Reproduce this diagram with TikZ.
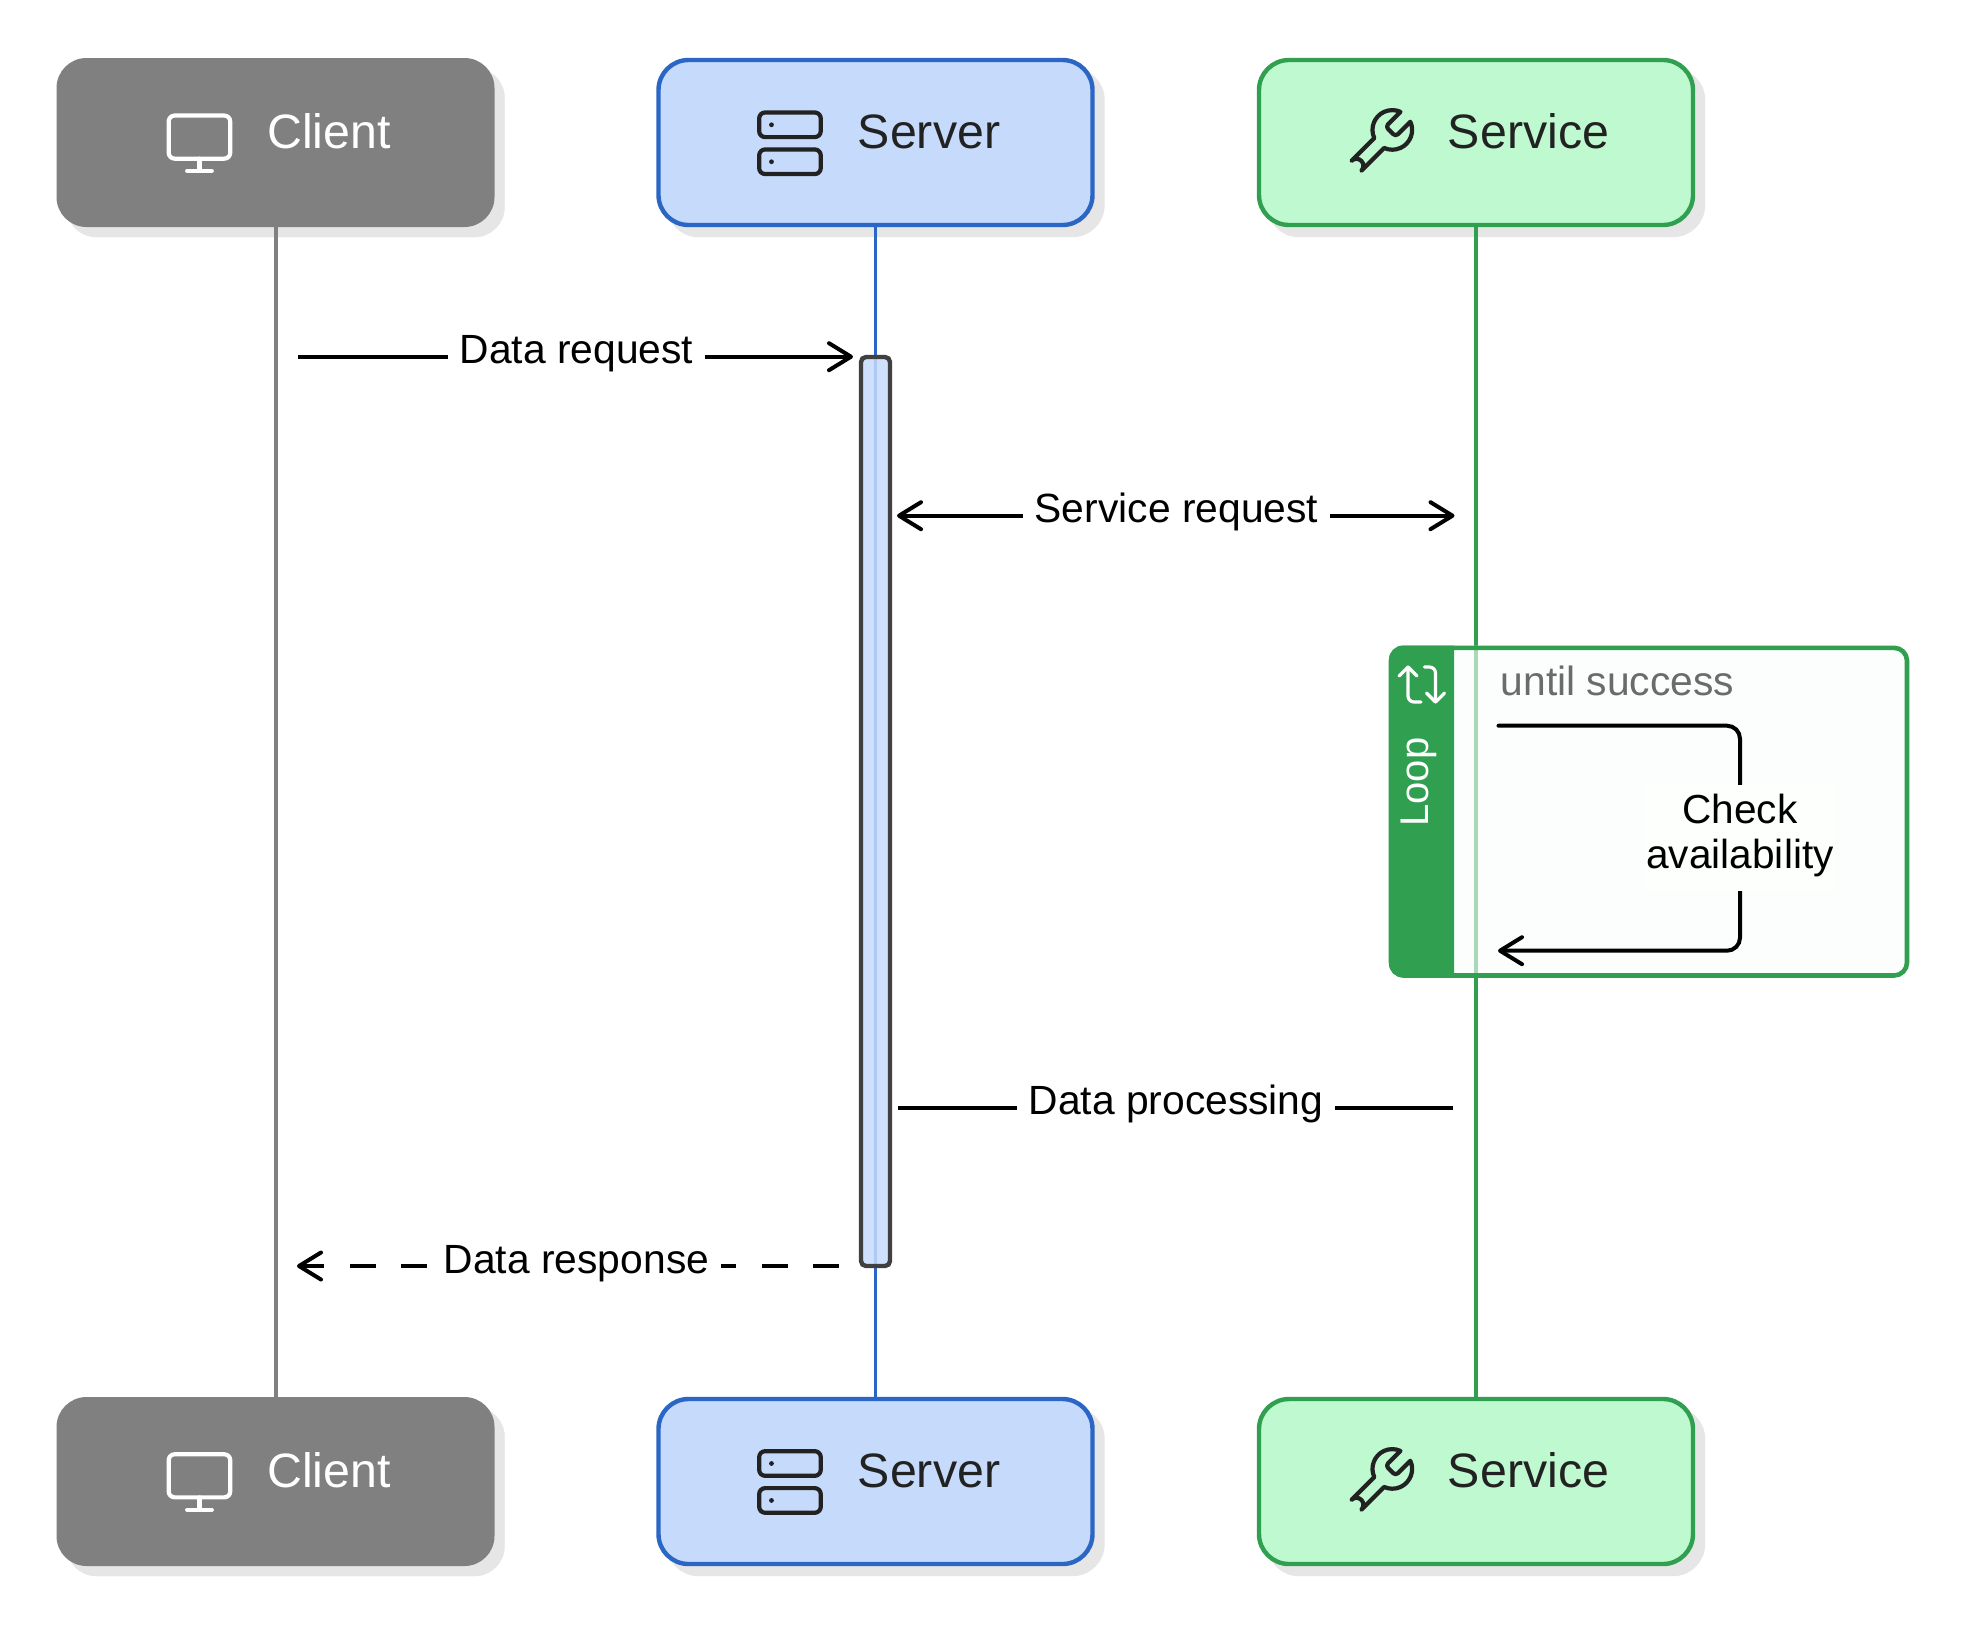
\documentclass[tikz,border=0pt]{standalone}
\usepackage{fontspec}
\setmainfont{Liberation Sans}
\usetikzlibrary{arrows.meta,shadows,svg.path}
\definecolor{clientgray}{HTML}{808080}
\definecolor{shadowgray}{HTML}{E6E6E6}
\definecolor{serverfill}{HTML}{C6DBFB}
\definecolor{serverblue}{HTML}{2B66C4}
\definecolor{servicefill}{HTML}{BEF9CF}
\definecolor{servicegreen}{HTML}{30A050}
\definecolor{inkdark}{HTML}{222222}
\definecolor{barstroke}{HTML}{404040}
\definecolor{framefill}{HTML}{F9FEFB}
\tikzset{
  actorbase/.style={rectangle,rounded corners=30pt,inner sep=0pt,outer sep=0pt,
    copy shadow={shadow xshift=10pt,shadow yshift=-10pt,draw=shadowgray,fill=shadowgray}},
  clientbox/.style={actorbase,fill=clientgray,minimum width=438pt,minimum height=169pt},
  serverbox/.style={actorbase,fill=serverfill,draw=serverblue,line width=4.4pt,minimum width=434pt,minimum height=165pt},
  servicebox/.style={actorbase,fill=servicefill,draw=servicegreen,line width=4.4pt,minimum width=434pt,minimum height=165pt},
  headtext/.style={anchor=base,inner sep=0pt,font=\fontsize{48.3}{50}\selectfont},
  msgtext/.style={anchor=base,fill=white,inner xsep=12pt,inner ysep=0pt,text height=30pt,text depth=9pt,text=black,font=\fontsize{40.8}{45}\selectfont},
  msg/.style={line width=4pt,black,>={Straight Barb[length=22pt,width=27pt,round]}},
  iconline/.style={line width=4.2pt,line cap=round,line join=round,rounded corners=6pt},
}
\newcommand{\monitoricon}[3]{%
  \begin{scope}[shift={(#1,#2)},scale=3.08]
    \draw[iconline,#3] (2,3) rectangle (22,17);
    \draw[iconline,#3] (8,21) -- (16,21);
    \draw[iconline,#3] (12,17) -- (12,21);
  \end{scope}}
\newcommand{\servericon}[3]{%
  \begin{scope}[shift={(#1,#2)},scale=3.08]
    \draw[iconline,#3] (2,2) rectangle (22,10);
    \draw[iconline,#3] (2,14) rectangle (22,22);
    \fill[#3] (6,6) circle (0.78);
    \fill[#3] (6,18) circle (0.78);
  \end{scope}}
\newcommand{\wrenchicon}[3]{%
  \begin{scope}[shift={(#1,#2)},xscale=3.3,yscale=-3.3]
    \draw[iconline,rounded corners=0pt,#3] svg "M14.7 6.3a1 1 0 0 0 0 1.4l1.6 1.6a1 1 0 0 0 1.4 0l3.77-3.77a6 6 0 0 1-7.94 7.94l-6.91 6.91a2.12 2.12 0 0 1-3-3l6.91-6.91a6 6 0 0 1 7.94-7.94l-3.76 3.76z";
  \end{scope}}
\begin{document}
\begin{tikzpicture}[x=1pt,y=-1pt]
\useasboundingbox (0,0) rectangle (1968,1634);
\fill[white] (0,0) rectangle (1968,1634);

% actors
\node[clientbox]  (clientTop)  at (275.5,142.5) {};
\node[serverbox]  (serverTop)  at (875.5,142.5) {};
\node[servicebox] (serviceTop) at (1476,142.5) {};
\node[clientbox]  (clientBot)  at (275.5,1481.5) {};
\node[serverbox]  (serverBot)  at (875.5,1481.5) {};
\node[servicebox] (serviceBot) at (1476,1481.5) {};

% lifelines
\draw[clientgray,line width=4pt]   (clientTop.south)  -- (clientBot.north);
\draw[serverblue,line width=3.8pt]   (serverTop.south)  -- (serverBot.north);
\draw[servicegreen,line width=4.2pt]   (serviceTop.south) -- (serviceBot.north);

% actor labels and icons
\node[headtext,white]   (clientTopLabel)  at (329,148) {Client};
\node[headtext,inkdark] (serverTopLabel)  at (929,148) {Server};
\node[headtext,inkdark] (serviceTopLabel) at (1528.5,148) {Service};
\node[headtext,white]   (clientBotLabel)  at (329,1487) {Client};
\node[headtext,inkdark] (serverBotLabel)  at (929,1487) {Server};
\node[headtext,inkdark] (serviceBotLabel) at (1528.5,1487) {Service};
\monitoricon{162.5}{106.3}{white}
\monitoricon{162.5}{1445}{white}
\servericon{753}{106.3}{inkdark}
\servericon{753}{1445}{inkdark}
\wrenchicon{1339.5}{103.5}{inkdark}
\wrenchicon{1339.5}{1442.5}{inkdark}

% activation bar
\node[draw=barstroke,line width=4.4pt,fill=serverfill,fill opacity=.85,rounded corners=5pt,
  minimum width=29pt,minimum height=909pt,inner sep=0pt,outer sep=0pt] (activation) at (875.5,811.5) {};

% loop frame
\node[draw=none,fill=framefill,fill opacity=.6,rounded corners=14pt,minimum width=520pt,minimum height=332pt,inner sep=0pt,outer sep=0pt] (loopFrame) at (1649,811.5) {};
\begin{scope}
  \clip (1380,640) rectangle (1454,985);
  \fill[servicegreen,rounded corners=14pt] (1389,645.5) rectangle (1909,977.5);
\end{scope}
\draw[servicegreen,line width=4.6pt,rounded corners=13pt] (1391,647.8) rectangle (1907,975.5);
\node[anchor=base,rotate=90,inner sep=0pt,text=white,font=\fontsize{40}{45}\selectfont] (loopLabel) at (1428.5,782) {Loop};
\draw[white,line width=3.2pt,line cap=round,line join=round,rounded corners=6pt] (1421,702) -- (1408,702) -- (1408,667);
\draw[white,line width=3.2pt,line cap=round,line join=round] (1399,676) -- (1408,667) -- (1417,676);
\draw[white,line width=3.2pt,line cap=round,line join=round,rounded corners=6pt] (1424.5,667) -- (1435.5,667) -- (1435.5,702);
\draw[white,line width=3.2pt,line cap=round,line join=round] (1426.5,693) -- (1435.5,702) -- (1444.5,693);
\node[anchor=base west,inner sep=0pt,text=black!58,font=\fontsize{40.8}{45}\selectfont] (untilLabel) at (1500.5,695) {until success};

% self message
\coordinate (selfStart) at (1498.5,725.7);
\coordinate (selfCornerA) at (1740,725.7);
\coordinate (selfCornerB) at (1740,950.7);
\coordinate (selfEnd) at (1498,950.7);
\draw[msg,->,rounded corners=13pt,line cap=round] (selfStart) -- (selfCornerA) -- (selfCornerB) -- (selfEnd);
\node[fill=framefill!40!white,minimum width=190pt,minimum height=106pt,inner sep=0pt] (selfMask) at (1740,838) {};
\node[align=center,inner sep=0pt,text=black,font=\fontsize{40.6}{45}\selectfont] (selfLabel) at (1740,835) {Check\\availability};

% messages
\coordinate (reqA) at (298,356.7);
\coordinate (reqB) at (853,356.7);
\draw[msg,->] (reqA) -- (reqB);
\node[msgtext] (reqLabel) at (576.5,363.7) {Data request};

\coordinate (svcA) at (897,515.7);
\coordinate (svcB) at (1454.5,515.7);
\draw[msg,<->] (svcA) -- (svcB);
\node[msgtext] (svcLabel) at (1176.5,522.7) {Service request};

\coordinate (procA) at (898,1107.5);
\coordinate (procB) at (1453,1107.5);
\draw[msg] (procA) -- (procB);
\node[msgtext] (procLabel) at (1176,1114) {Data processing};

\coordinate (respA) at (839,1266);
\coordinate (respB) at (297,1266);
\draw[msg,->,dash pattern=on 26pt off 25.5pt] (respA) -- (respB);
\node[msgtext] (respLabel) at (576.5,1273) {Data response};
\end{tikzpicture}
\end{document}
